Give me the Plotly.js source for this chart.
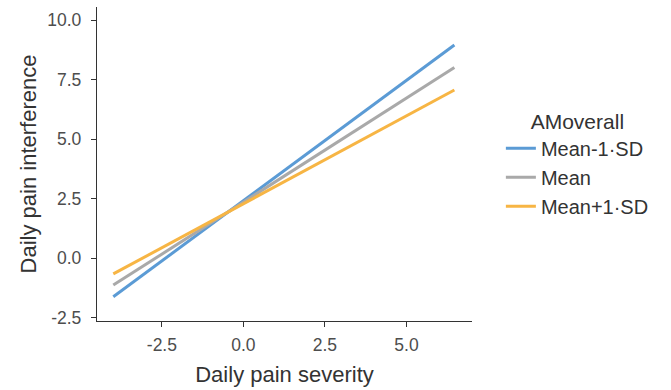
<!DOCTYPE html>
<html><head><meta charset="utf-8">
<script src="https://cdn.plot.ly/plotly-3.0.1.min.js"></script>
<style>body{margin:0;background:#fff}#chart{width:671px;height:390px}</style>
</head><body><div id="chart"></div>
<script>
const severity = [-3.99, 6.47];
const seriesNames = ["Mean-1·SD", "Mean", "Mean+1·SD"];
const meanMinus1SD = [-1.63, 8.96];
const meanValues = [-1.14, 8.01];
const meanPlus1SD = [-0.67, 7.07];
const seriesColors = ["#5b9bd5", "#a9a9a9", "#f7b544"];
const xTicks = [-2.5, 0, 2.5, 5];
const xTickLabels = ["-2.5", "0.0", "2.5", "5.0"];
const yTicks = [-2.5, 0, 2.5, 5, 7.5, 10];
const yTickLabels = ["-2.5", "0.0", "2.5", "5.0", "7.5", "10.0"];

const ys = [meanMinus1SD, meanValues, meanPlus1SD];
const traces = ys.map((y, i) => ({
  x: severity, y: y, type: "scatter", mode: "lines", name: seriesNames[i],
  line: {color: seriesColors[i], width: 3}
}));
const FONT = "Liberation Sans, Arial, sans-serif";
const axisCommon = {
  showgrid: false, zeroline: false, showline: true, linecolor: "#333", linewidth: 1.3,
  ticks: "outside", ticklen: 5, tickcolor: "#333", tickwidth: 1.3,
  tickfont: {family: FONT, size: 17.5, color: "#4d4d4d"}
};
Plotly.newPlot("chart", traces, {
  width: 671, height: 390,
  margin: {l: 97, r: 199, t: 7, b: 69},
  paper_bgcolor: "#fff", plot_bgcolor: "#fff",
  font: {family: FONT, color: "#333"},
  xaxis: Object.assign({}, axisCommon, {
    range: [-4.49, 7.01], tickvals: xTicks, ticktext: xTickLabels, ticklabelstandoff: 3,
    title: {text: "Daily pain severity", font: {size: 22, color: "#333"}, standoff: 12}
  }),
  yaxis: Object.assign({}, axisCommon, {
    range: [-2.65, 10.56], tickvals: yTicks, ticktext: yTickLabels, ticklabelstandoff: 6,
    title: {text: "Daily pain interference", font: {size: 22, color: "#333"}, standoff: 4}
  }),
  showlegend: true,
  legend: {
    x: 1.077, xanchor: "left", y: 0.5, yanchor: "middle",
    title: {text: "AMoverall", font: {size: 21, color: "#333"}, side: "top center"},
    font: {size: 20, color: "#333"}, tracegroupgap: 0, itemwidth: 30
  }
}, {displayModeBar: false});
</script></body></html>
